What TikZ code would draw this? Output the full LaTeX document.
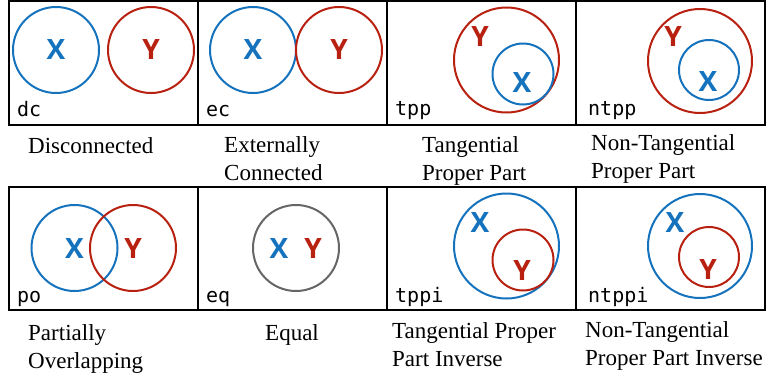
\documentclass[tikz,border=0pt]{standalone}
\usepackage{fontspec}
\setmainfont{Liberation Serif}
\newfontfamily\letterfont{Open Sans Bold}
\newfontfamily\tagfont{DejaVu Sans Mono}
\usepackage{tikz}
\usetikzlibrary{positioning}
\definecolor{xblue}{RGB}{21,114,189}
\definecolor{yred}{RGB}{184,32,16}
\definecolor{eqgray}{RGB}{102,102,102}

\begin{document}
\begin{tikzpicture}[x=1pt, y=-1pt,
  cell/.style={draw, line width=2.5pt, minimum width=189pt, minimum height=124pt, inner sep=0pt},
  region/.style={circle, draw, line width=2pt, inner sep=0pt, minimum size=#1},
  tag/.style={anchor=base west, inner sep=0pt, font=\tagfont\fontsize{20}{20}\selectfont},
  letter/.style={inner sep=0pt, font=\letterfont\fontsize{28}{28}\selectfont},
  caption/.style={anchor=base west, align=left, inner sep=0pt, font=\fontsize{23}{28}\selectfont}]
  \useasboundingbox (0,0) rectangle (766,375);

  % top row: dc
  \node[cell] (dc) at (103.5,63) {};
  \node[region=86pt, xblue] (dcx) at (56,50) {};
  \node[region=86pt, yred] (dcy) at (151,50) {};
  \node[letter, xblue] at (dcx) {X};
  \node[letter, yred] at (dcy) {Y};
  \node[tag] at (17,116) {dc};
  \node[caption] at (28,153) {Disconnected};

  % top row: ec (base of a two-line caption is its last line)
  \node[cell] (ec) at (292.5,63) {};
  \node[region=86pt, xblue] (ecx) at (253,50) {};
  \node[region=86pt, yred] (ecy) at (339,50) {};
  \node[letter, xblue] at (ecx) {X};
  \node[letter, yred] at (ecy) {Y};
  \node[tag] at (206,116) {ec};
  \node[caption] at (224,180) {Externally\\Connected};

  % top row: tpp
  \node[cell] (tpp) at (481.5,63) {};
  \node[region=105pt, yred] (tppy) at (506.5,60) {};
  \node[region=61pt, xblue] (tppx) at (523,74) {};
  \node[letter, yred] at (480,37) {Y};
  \node[letter, xblue] at (522,83) {X};
  \node[tag] at (395,115) {tpp};
  \node[caption] at (422,180) {Tangential\\Proper Part};

  % top row: ntpp
  \node[cell] (ntpp) at (670.5,63) {};
  \node[region=104pt, yred] (ntppy) at (700,61) {};
  \node[region=60pt, xblue] (ntppx) at (709,70) {};
  \node[letter, yred] at (673,37) {Y};
  \node[letter, xblue] at (708,82) {X};
  \node[tag] at (588,115) {ntpp};
  \node[caption] at (591,178) {Non-Tangential\\Proper Part};

  % bottom row: po
  \node[cell, minimum height=123pt] (po) at (103.5,248.5) {};
  \node[region=86pt, xblue] (pox) at (74.5,248) {};
  \node[region=86pt, yred] (poy) at (133,248) {};
  \node[letter, xblue] at (74.5,249) {X};
  \node[letter, yred] at (133,249) {Y};
  \node[tag] at (17,302) {po};
  \node[caption] at (28,368) {Partially\\Overlapping};

  % bottom row: eq
  \node[cell, minimum height=123pt] (eq) at (292.5,248.5) {};
  \node[region=86pt, eqgray] (eqxy) at (296,248) {};
  \node[letter, xblue] at (279,249) {X};
  \node[letter, yred] at (313,249) {Y};
  \node[tag] at (206,302) {eq};
  \node[caption] at (265,340) {Equal};

  % bottom row: tppi
  \node[cell, minimum height=123pt] (tppi) at (481.5,248.5) {};
  \node[region=105pt, xblue] (tppix) at (506.5,246) {};
  \node[region=61pt, yred] (tppiy) at (523,260) {};
  \node[letter, xblue] at (480,223) {X};
  \node[letter, yred] at (522,271) {Y};
  \node[tag] at (395,302) {tppi};
  \node[caption] at (392,366) {Tangential Proper\\Part Inverse};

  % bottom row: ntppi
  \node[cell, minimum height=123pt] (ntppi) at (670.5,248.5) {};
  \node[region=104pt, xblue] (ntppix) at (700,246) {};
  \node[region=60pt, yred] (ntppiy) at (709,257) {};
  \node[letter, xblue] at (675,223) {X};
  \node[letter, yred] at (708,270) {Y};
  \node[tag] at (588,302) {ntppi};
  \node[caption] at (585,365) {Non-Tangential\\Proper Part Inverse};
\end{tikzpicture}
\end{document}
